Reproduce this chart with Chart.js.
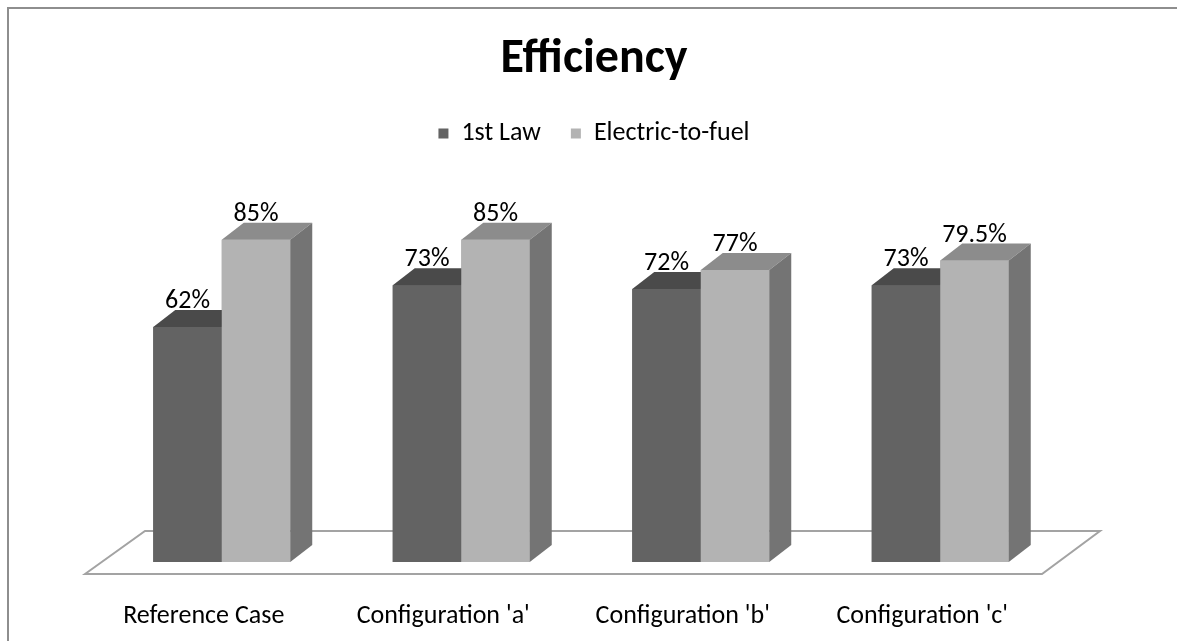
<!DOCTYPE html>
<html>
<head>
<meta charset="utf-8">
<title>Efficiency</title>
<script src="https://cdn.jsdelivr.net/npm/chart.js@4.4.0/dist/chart.umd.min.js"></script>
<style>
  html, body { margin: 0; padding: 0; background: #fff; overflow: hidden; }
  #effChart { display: block; }
</style>
</head>
<body>
<canvas id="effChart" width="1177" height="641"></canvas>
<script>
// Chart data
var categories = ["Reference Case", "Configuration 'a'", "Configuration 'b'", "Configuration 'c'"];
var firstLaw = [62, 73, 72, 73];
var electricToFuel = [85, 85, 77, 79.5];
var seriesNames = ["1st Law", "Electric-to-fuel"];

var FONT = "Carlito, Lato, 'Open Sans', sans-serif";

// face colours for the fake 3D look: front, top, side
var shades = [
    { front: "#636363", top: "#4a4a4a", side: "#555555" },
    { front: "#b3b3b3", top: "#8c8c8c", side: "#747474" }
];

// depth of the bars
var DX = 22, DY = -17;

// chart border (left and top edges only are inside the window)
var frame = {
    id: "frame",
    beforeDraw: function (chart) {
        var ctx = chart.ctx;
        ctx.save();
        ctx.strokeStyle = "#8e8e8e";
        ctx.lineWidth = 2;
        ctx.beginPath();
        ctx.moveTo(8, chart.height);
        ctx.lineTo(8, 8);
        ctx.lineTo(chart.width, 8);
        ctx.stroke();
        ctx.restore();
    }
};

var floor3d = {
    id: "floor3d",
    beforeDatasetsDraw: function (chart) {
        var ctx = chart.ctx;
        var a = chart.chartArea;
        var y0 = chart.scales.y.getPixelForValue(0);
        ctx.save();
        ctx.beginPath();
        ctx.moveTo(a.left - 17, y0 + 12);
        ctx.lineTo(a.left + 43, y0 - 31);
        ctx.lineTo(a.right + 40, y0 - 31);
        ctx.lineTo(a.right - 18, y0 + 12);
        ctx.closePath();
        ctx.fillStyle = "#ffffff";
        ctx.fill();
        ctx.lineWidth = 2;
        ctx.strokeStyle = "#a3a3a3";
        ctx.stroke();
        ctx.restore();
    }
};

var bars3d = {
    id: "bars3d",
    afterDatasetsDraw: function (chart) {
        var ctx = chart.ctx;
        ctx.save();
        for (var i = 0; i < categories.length; i++) {
            chart.data.datasets.forEach(function (ds, d) {
                var bar = chart.getDatasetMeta(d).data[i];
                var l = bar.x - bar.width / 2, r = bar.x + bar.width / 2;
                var t = bar.y, b = bar.base;
                var c = shades[d];
                // front
                ctx.fillStyle = c.front;
                ctx.fillRect(l, t, r - l, b - t);
                // top
                ctx.beginPath();
                ctx.moveTo(l, t);
                ctx.lineTo(l + DX, t + DY);
                ctx.lineTo(r + DX, t + DY);
                ctx.lineTo(r, t);
                ctx.closePath();
                ctx.fillStyle = c.top;
                ctx.fill();
                // side
                ctx.beginPath();
                ctx.moveTo(r, t);
                ctx.lineTo(r + DX, t + DY);
                ctx.lineTo(r + DX, b + DY);
                ctx.lineTo(r, b);
                ctx.closePath();
                ctx.fillStyle = c.side;
                ctx.fill();
            });
        }
        // value labels
        ctx.font = "26px " + FONT;
        ctx.fillStyle = "#000";
        ctx.textAlign = "center";
        ctx.textBaseline = "alphabetic";
        chart.data.datasets.forEach(function (ds, d) {
            chart.getDatasetMeta(d).data.forEach(function (bar, i) {
                ctx.fillText(ds.data[i] + "%", bar.x, bar.y + DY - 2);
            });
        });
        ctx.restore();
    }
};

var ctx = document.getElementById("effChart").getContext("2d");
var effChart = new Chart(ctx, {
    type: "bar",
    data: {
        labels: categories,
        datasets: [{
            label: seriesNames[0],
            data: firstLaw,
            backgroundColor: shades[0].front
        }, {
            label: seriesNames[1],
            data: electricToFuel,
            backgroundColor: shades[1].front
        }]
    },
    options: {
        responsive: false,
        animation: false,
        layout: {
            padding: { left: 102, right: 91, top: 0, bottom: 0 }
        },
        datasets: {
            bar: { barPercentage: 1, categoryPercentage: 0.572 }
        },
        scales: {
            x: {
                grid: { display: false, drawTicks: false },
                border: { display: false },
                ticks: {
                    color: "#000",
                    font: { family: FONT, size: 26 },
                    padding: 39,
                    labelOffset: -18,
                    maxRotation: 0
                },
                afterFit: function (s) { s.height = 79; }
            },
            y: {
                position: "right",
                min: 0,
                max: 106.9,
                grid: { display: false },
                border: { display: false },
                ticks: { display: false },
                afterFit: function (s) { s.width = 26; }
            }
        },
        plugins: {
            tooltip: { enabled: false },
            title: {
                display: true,
                text: "Efficiency",
                color: "#000",
                font: { family: FONT, size: 48, weight: "bold" },
                padding: { top: 31, bottom: 2 }
            },
            legend: {
                display: true,
                position: "top",
                labels: {
                    color: "#000",
                    boxWidth: 10,
                    boxHeight: 10,
                    padding: 30,
                    font: { family: FONT, size: 26 }
                }
            }
        }
    },
    plugins: [frame, floor3d, bars3d]
});
</script>
</body>
</html>
